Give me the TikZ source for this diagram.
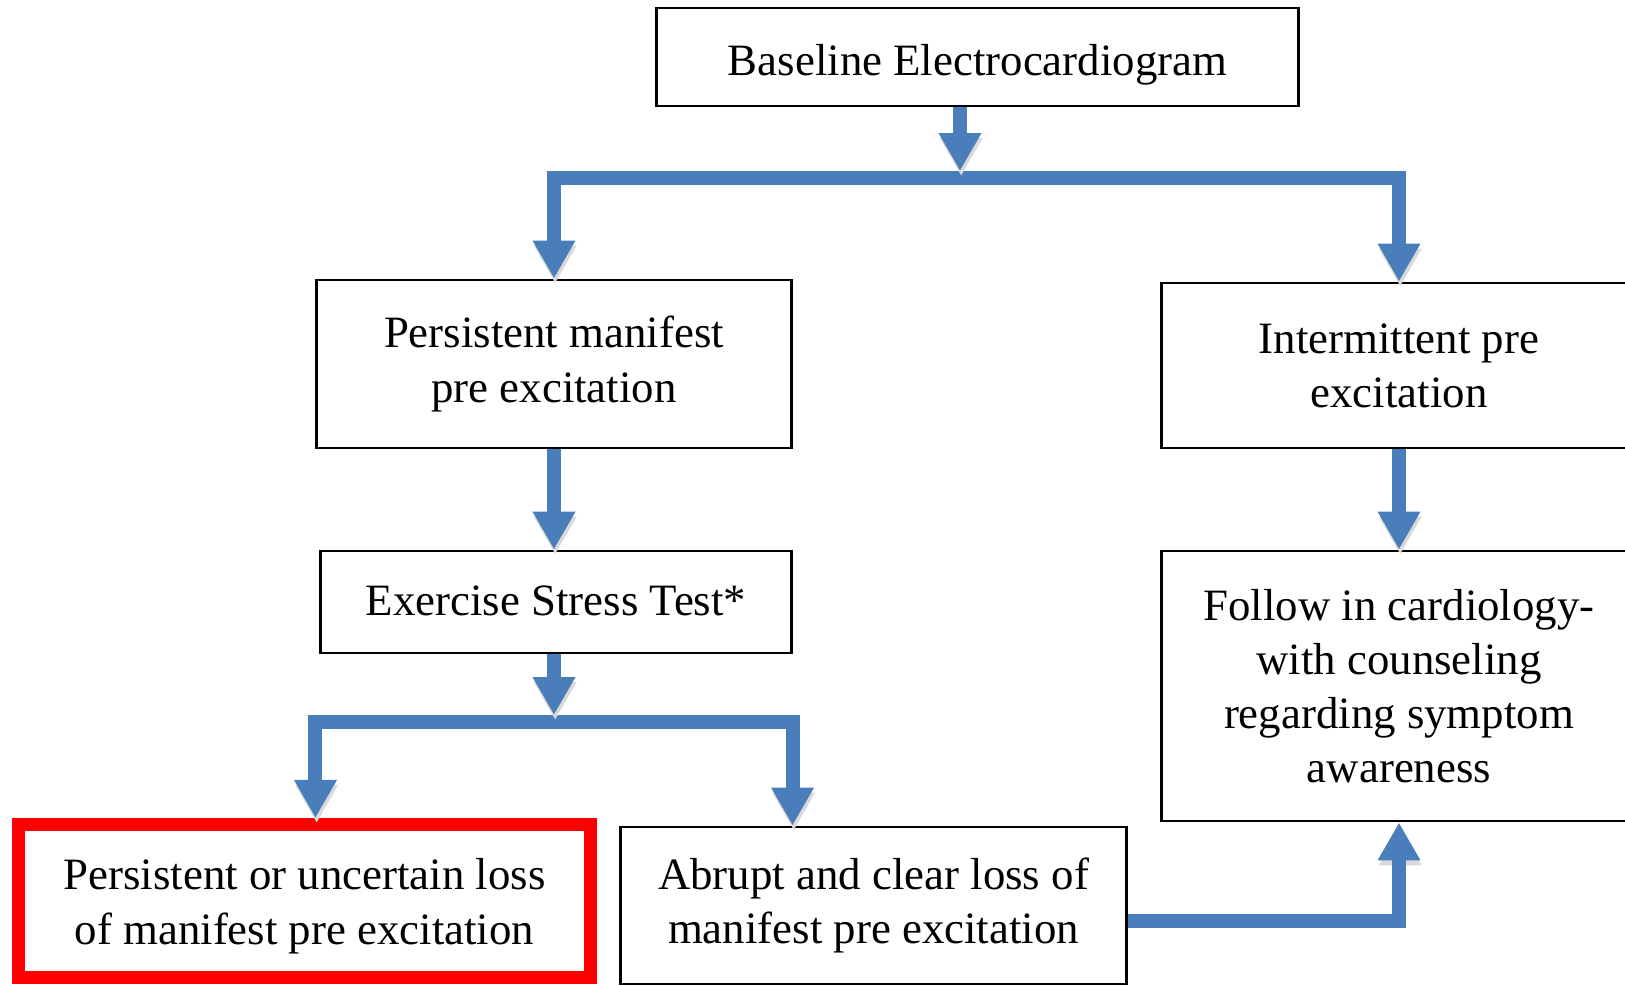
\documentclass[tikz,border=0pt]{standalone}
\usepackage{fontspec}
\setmainfont{Liberation Serif}
\usetikzlibrary{arrows.meta}
\definecolor{flowblue}{RGB}{74,126,187}
\newcommand{\boxfont}{\fontsize{12.75pt}{15.4pt}\selectfont}

\begin{document}
\begin{tikzpicture}[x=0.01cm, y=-0.01cm,
    >={Triangle[width=11.4pt, length=10.8pt]},
    box/.style={draw, line width=0.8pt, align=center, inner sep=0pt, font=\boxfont},
    flow/.style={draw=flowblue, line width=4pt, line join=miter,
        preaction={draw=black!15, transform canvas={shift={(0.012cm,-0.05cm)}}}}]
    % Page frame (picture is cut at the right and bottom)
    \clip (0,0) rectangle (1625,986);

    % Boxes
    \node[box, minimum width=6.41cm, minimum height=0.98cm, text height=13.4pt, text depth=2.8pt] (base) at (977.5,57)
        {Baseline Electrocardiogram};
    \node[box, minimum width=4.74cm, minimum height=1.68cm] (persist) at (554,364)
        {Persistent manifest\\pre excitation};
    \node[box, minimum width=4.74cm, minimum height=1.65cm] (intermit) at (1399,365.5)
        {Intermittent pre\\excitation};
    \node[box, minimum width=4.70cm, minimum height=1.02cm, text height=10.4pt, text depth=2.8pt] (stress) at (556,602)
        {Exercise Stress Test*};
    \node[box, minimum width=4.74cm, minimum height=2.70cm] (follow) at (1399,686)
        {Follow in cardiology-\\with counseling\\regarding symptom\\awareness};
    \node[box, draw=red, line width=3.7pt, minimum width=5.71cm, minimum height=1.53cm] (uncertain) at (304.5,901)
        {\rule{0pt}{11.8pt}Persistent or uncertain loss\\of manifest pre excitation};
    \node[box, minimum width=5.05cm, minimum height=1.57cm] (abrupt) at (873.5,905.5)
        {Abrupt and clear loss of\\manifest pre excitation};

    % Fork points
    \coordinate (fork1) at (960,178);
    \coordinate (fork1in) at (960,171);
    \coordinate (fork2) at (554,722);
    \coordinate (fork2in) at (554,715);
    \coordinate (turn) at (1399,921);

    % Connectors
    \draw[flow, <->] (persist.north) |- (fork1) -| (intermit.north);
    \draw[flow, ->] (base.south -| fork1) -- (fork1in);
    \draw[flow, ->] (persist.south) -- (persist.south |- stress.north);
    \draw[flow, ->] (intermit.south) -- (follow.north);
    \draw[flow, <->] (persist.west |- uncertain.north) |- (fork2) -| (persist.east |- abrupt.north);
    \draw[flow, ->] (stress.south -| fork2) -- (fork2in);
    \draw[flow, ->] (abrupt.east |- turn) -| (follow.south);
\end{tikzpicture}
\end{document}
